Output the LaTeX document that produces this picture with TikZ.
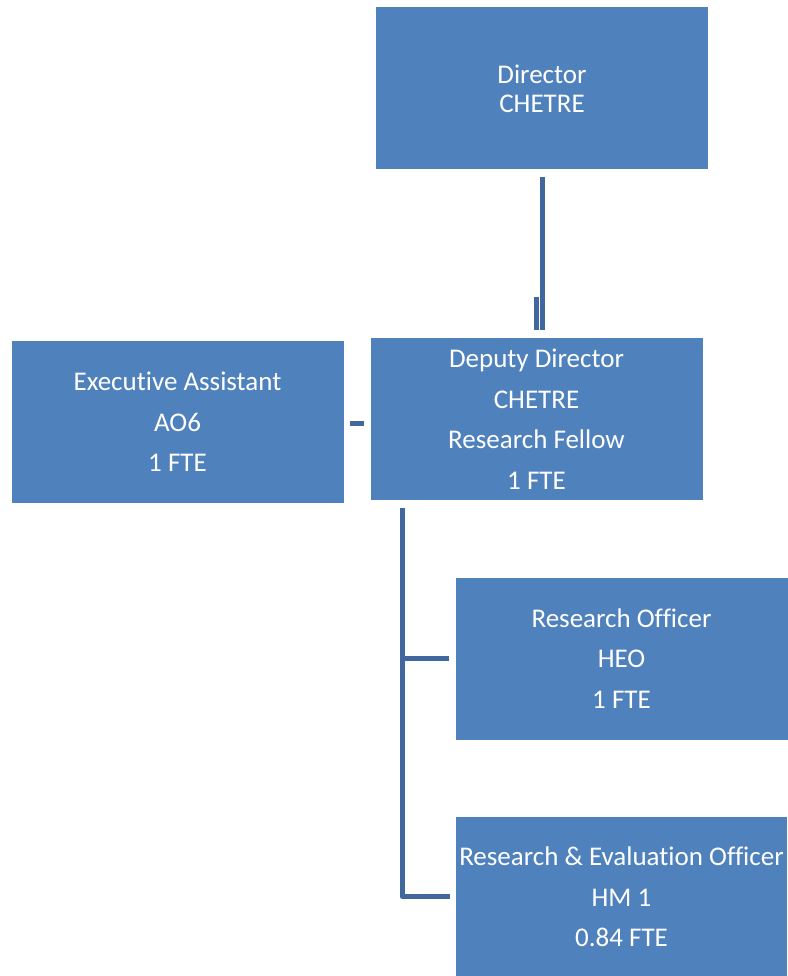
\documentclass[tikz,border=0pt]{standalone}
\usepackage{fontspec}
\setmainfont{Carlito}[Ligatures=NoCommon]
\usepackage{tikz}
\usetikzlibrary{calc, %for relative coord calculations
                positioning}
\definecolor{boxblue}{HTML}{4F81BD}
\definecolor{linkblue}{HTML}{41689E}

\begin{document}
\begin{tikzpicture}[x=1pt, y=-1pt,
                    post/.style={fill=boxblue, text=white, minimum width=332pt, minimum height=162pt,
                                 inner sep=0, align=center, font=\fontsize{27}{40.5}\selectfont},
                    link/.style={linkblue, line width=5pt, line join=round}
                    ]
    \useasboundingbox (0,0) rectangle (787,976);
    %post nodes
    \node[post, font=\fontsize{27}{29}\selectfont] at (542,88.5)  (dir){Director\\CHETRE};
    \node[post] at (536.5,419) (dep){Deputy Director\\CHETRE\\Research Fellow\\1 FTE};
    \node[post] at (177.5,422) (ea){Executive Assistant\\AO6\\1 FTE};
    \node[post] at (621.5,658.5) (ro){Research Officer\\HEO\\1 FTE};
    \node[post, minimum width=331pt, minimum height=159pt] at (621.5,896.5) (re){};
    \node[font=\fontsize{27}{40.5}\selectfont, text=white, align=center] at (621.5,897) (relabel)
        {Research \& Evaluation Officer\\HM 1\\0.84 FTE};

    %connectors
    \coordinate (trunk) at (402,508);
    \draw[link] ([yshift=-7pt]dir.south) -- ([yshift=8pt]dep.north -| dir.south);
    \draw[link] ([yshift=41pt]dep.north) -- ([yshift=8pt]dep.north);
    \draw[link] ([xshift=6pt]ea.east |- 0,423) -- ([xshift=-6pt]dep.west |- 0,423);
    \draw[link] (trunk) |- ([xshift=-6pt]re.west);
    \draw[link] (trunk |- ro.west) -- ([xshift=-6pt]ro.west);
\end{tikzpicture}
\end{document}
